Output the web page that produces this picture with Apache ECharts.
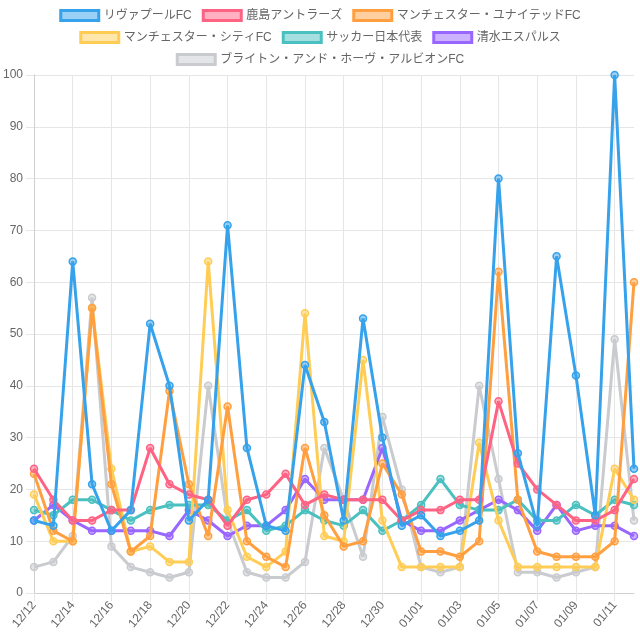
<!DOCTYPE html>
<html>
<head>
<meta charset="utf-8">
<script src="https://cdn.jsdelivr.net/npm/echarts@6/dist/echarts.min.js"></script>
<style>
    html, body { margin: 0; padding: 0; background: #fff; }
    #chart { width: 640px; height: 640px; }
</style>
</head>
<body>
<div id="chart"></div>
<script>
const dates = [
    '12/12', '12/13', '12/14', '12/15', '12/16', '12/17', '12/18', '12/19', '12/20', '12/21',
    '12/22', '12/23', '12/24', '12/25', '12/26', '12/27', '12/28', '12/29', '12/30', '12/31',
    '01/01', '01/02', '01/03', '01/04', '01/05', '01/06', '01/07', '01/08', '01/09', '01/10',
    '01/11', '01/12'
];

const teamNames = [
    'リヴァプールFC', '鹿島アントラーズ', 'マンチェスター・ユナイテッドFC',
    'マンチェスター・シティFC', 'サッカー日本代表', '清水エスパルス',
    'ブライトン・アンド・ホーヴ・アルビオンFC'
];

const liverpool = [14, 13, 64, 21, 12, 16, 52, 40, 14, 18, 71, 28, 13, 12, 44, 33, 14, 53, 30, 13, 15, 11, 12, 14, 80, 27, 13, 65, 42, 15, 100, 24];
const kashima = [24, 18, 14, 14, 16, 16, 28, 21, 19, 18, 13, 18, 19, 23, 17, 19, 18, 18, 18, 14, 16, 16, 18, 18, 37, 25, 20, 17, 14, 14, 16, 22];
const manUtd = [23, 12, 10, 55, 21, 8, 11, 39, 21, 11, 36, 10, 7, 5, 28, 15, 9, 10, 25, 19, 8, 8, 7, 10, 62, 18, 8, 7, 7, 7, 10, 60];
const manCity = [19, 10, 10, 55, 24, 8, 9, 6, 6, 64, 16, 7, 5, 8, 54, 11, 10, 45, 14, 5, 5, 5, 5, 29, 14, 5, 5, 5, 5, 5, 24, 18];
const japan = [16, 15, 18, 18, 16, 14, 16, 17, 17, 17, 14, 16, 12, 13, 16, 14, 13, 16, 12, 14, 17, 22, 17, 16, 16, 18, 14, 14, 17, 15, 18, 17];
const shimizu = [14, 17, 14, 12, 12, 12, 12, 11, 16, 14, 11, 13, 13, 16, 22, 18, 18, 18, 28, 14, 12, 12, 14, 16, 18, 16, 12, 17, 12, 13, 13, 11];
const brighton = [5, 6, 11, 57, 9, 5, 4, 3, 4, 40, 14, 4, 3, 3, 6, 28, 18, 7, 34, 20, 5, 4, 5, 40, 22, 4, 4, 3, 4, 5, 49, 14];

const seriesData = [liverpool, kashima, manUtd, manCity, japan, shimizu, brighton];
const colors = [
    [54, 162, 235], [255, 99, 132], [255, 159, 64], [255, 205, 86],
    [75, 192, 192], [153, 102, 255], [201, 203, 207]
];

const fontFamily = '"Liberation Sans", "Noto Sans CJK JP", sans-serif';
const gridColor = '#e6e6e6';

function rgb(c, a) {
    return a === undefined ? `rgb(${c.join(',')})` : `rgba(${c.join(',')},${a})`;
}

function legendItem(i) {
    return {
        name: teamNames[i],
        itemStyle: { color: rgb(colors[i], 0.5), borderColor: rgb(colors[i]), borderWidth: 3 }
    };
}

function makeLegend(indices, top) {
    return {
        top: top,
        left: 'center',
        padding: 0,
        icon: 'rect',
        itemWidth: 38,
        itemHeight: 10,
        itemGap: 10,
        selectedMode: false,
        textStyle: { color: '#666', fontSize: 12, fontFamily: fontFamily },
        data: indices.map(legendItem)
    };
}

// 先に描いたものが下になるので、逆順に並べる
const series = seriesData.map((data, i) => ({
    name: teamNames[i],
    type: 'line',
    data: data,
    symbol: 'circle',
    symbolSize: 7,
    z: 10 - i,
    lineStyle: { color: rgb(colors[i]), width: 3 },
    itemStyle: { color: rgb(colors[i], 0.5), borderColor: rgb(colors[i]), borderWidth: 1.5 },
    emphasis: { disabled: true }
})).reverse();

const chart = echarts.init(document.getElementById('chart'));
chart.setOption({
    animation: false,
    textStyle: { fontFamily: fontFamily },
    legend: [
        makeLegend([0, 1, 2], 9),
        makeLegend([3, 4, 5], 31),
        makeLegend([6], 53)
    ],
    grid: { left: 34, right: 6, top: 75, bottom: 47 },
    xAxis: {
        type: 'category',
        data: dates,
        boundaryGap: false,
        axisLine: { lineStyle: { color: '#d0d0d0' } },
        axisTick: { show: true, interval: 1, length: 8, lineStyle: { color: gridColor } },
        splitLine: { show: true, interval: 1, lineStyle: { color: gridColor } },
        axisLabel: { interval: 1, rotate: 50, margin: 10, color: '#666', fontSize: 12 }
    },
    yAxis: {
        type: 'value',
        min: 0,
        max: 100,
        interval: 10,
        axisLine: { show: true, lineStyle: { color: '#d0d0d0' } },
        axisTick: { show: true, length: 8, lineStyle: { color: gridColor } },
        splitLine: { lineStyle: { color: gridColor } },
        axisLabel: { margin: 11, color: '#666', fontSize: 12 }
    },
    series: series
});
</script>
</body>
</html>
